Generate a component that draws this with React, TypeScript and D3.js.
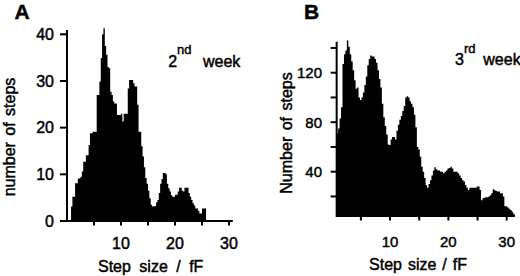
import React from "react";
import * as d3 from "d3";

// ---------- data ----------
const binWidth = 0.25;

// Panel A: 2nd week, bins start at 0.75 fF
const aBinStart = 0.75;
const aCounts = [
  3.1, 5.2, 5.2, 8.1, 8.1, 9.1, 9.1, 9.5, 10.6, 12.7, 12.7, 14.1, 14.1, 16.3, 18.8, 18.8,
  19.1, 19.1, 19.1, 27.0, 27.0, 29.9, 34.9, 40.0, 41.3, 37.5, 35.6, 33.0, 32.7, 27.7, 27.0, 25.6,
  25.2, 25.2, 22.7, 22.7, 22.7, 23.0, 21.3, 23.0, 23.0, 23.0, 28.4, 30.2, 30.2, 30.2, 29.5, 28.8,
  28.8, 24.9, 19.1, 19.1, 16.0, 13.8, 11.5, 9.2, 8.0, 6.5, 4.9, 3.5, 3.1, 3.1, 3.2, 4.0,
  4.5, 6.0, 8.0, 9.0, 10.3, 10.3, 10.0, 8.0, 7.0, 6.3, 5.5, 5.2, 5.2, 5.6, 5.6, 6.3,
  7.1, 7.1, 6.5, 6.3, 7.1, 7.1, 7.1, 6.0, 5.2, 4.5, 3.8, 3.3, 2.7, 2.7, 2.2, 1.6,
  1.6, 2.7, 2.7, 2.7,
];

// Panel B: 3rd week, bins start at 0.85 fF
const bBinStart = 0.85;
const bCounts = [
  71, 75, 83, 92, 127, 135, 138, 146, 141, 135, 129, 122, 114, 107, 108, 100,
  98, 100, 104, 110, 117, 126, 131, 134, 133, 133, 131, 128, 122, 115, 108, 95,
  84, 77, 70, 62, 61.5, 66, 68, 68, 66, 73, 78, 82, 85, 89, 93, 100,
  101, 100, 97, 95, 92, 86, 76, 60, 58, 52, 44, 40, 35, 29, 27, 30,
  33, 37, 41, 43.5, 42, 41, 41, 40, 40, 38.7, 40, 41, 42.5, 43, 44, 42.5,
  40, 40, 40, 38.7, 37, 35, 33, 32, 29, 27, 25.2, 27, 27, 27, 27, 27,
  28, 28, 25.2, 17, 18.5, 19, 19.3, 19.3, 20, 21, 22.5, 25.8, 25, 24.5, 24, 24,
  22.5, 22.5, 20, 12, 12, 11, 10, 9, 7.7, 6,
];

const aXTicks = [5, 10, 15, 20, 25, 30];
const aXLabels = [10, 20, 30];
const aYTicks = [0, 10, 20, 30, 40];
const aYLabels = [0, 10, 20, 30, 40];

const bXTicks = [5, 10, 15, 20, 25, 30];
const bXLabels = [10, 20, 30];
const bYTicks = [20, 40, 60, 80, 100, 120, 140];
const bYLabels = [40, 80, 120];

const FONT = "'Liberation Sans', Arial, Helvetica, sans-serif";

type Pt = [number, number];

function histPoints(start: number, counts: number[]): Pt[] {
  const pts: Pt[] = counts.map((c, i) => [start + i * binWidth, c] as Pt);
  pts.push([start + counts.length * binWidth, counts[counts.length - 1]]);
  return pts;
}

export default function App() {
  // ---- Panel A scales ----
  const xA = d3.scaleLinear().domain([0, 30]).range([67, 229]);
  const yA = d3.scaleLinear().domain([0, 40]).range([221, 34.3]);
  const aXMin = 0, aXMax = 30.7, aYMax = 40.9;

  // ---- Panel B scales ----
  const xB = d3.scaleLinear().domain([0, 30]).range([331.7, 506.7]);
  const yB = d3.scaleLinear().domain([40, 120]).range([171.7, 72.7]);
  const bXMin = 0.85, bXMax = 31.4, bYMin = 4.2, bYMax = 145;

  const areaA = d3
    .area<Pt>()
    .x((d) => xA(d[0]))
    .y0(yA(0))
    .y1((d) => yA(d[1]))
    .curve(d3.curveStepAfter);

  const areaB = d3
    .area<Pt>()
    .x((d) => xB(d[0]))
    .y0(yB(bYMin))
    .y1((d) => yB(d[1]))
    .curve(d3.curveStepAfter);

  const sw = 2;
  const ts = { stroke: "#000", strokeWidth: 0.45 } as const;

  return (
    <svg
      width={520}
      height={276}
      style={{ position: "absolute", left: 0, top: 0, background: "#fff" }}
      fontFamily={FONT}
    >
      <rect x={0} y={0} width={520} height={276} fill="#fff" />
      {/* ===== Panel A ===== */}
      <text x={14.5} y={18.5} fontSize={21} fontWeight="bold" {...ts}>A</text>
      <path d={areaA(histPoints(aBinStart, aCounts)) || ""} fill="#000" />
      {/* axes */}
      <line x1={xA(aXMin)} x2={xA(aXMax)} y1={yA(0)} y2={yA(0)} stroke="#000" strokeWidth={sw} />
      <line x1={xA(aXMin)} x2={xA(aXMin)} y1={yA(0) + 1} y2={yA(aYMax)} stroke="#000" strokeWidth={sw} />
      {aXTicks.map((t) => (
        <line key={"axt" + t} x1={xA(t)} x2={xA(t)} y1={yA(0)} y2={yA(0) + 4.5} stroke="#000" strokeWidth={sw} />
      ))}
      {aXLabels.map((t) => (
        <text key={"axl" + t} x={xA(t)} y={248.5} fontSize={16} textAnchor="middle" {...ts}>{t}</text>
      ))}
      {aYTicks.map((t) => (
        <line key={"ayt" + t} x1={xA(aXMin) - 7} x2={xA(aXMin)} y1={yA(t)} y2={yA(t)} stroke="#000" strokeWidth={sw} />
      ))}
      {aYLabels.map((t) => (
        <text key={"ayl" + t} x={54} y={yA(t) + 5.8} fontSize={16} textAnchor="end" {...ts}>{t}</text>
      ))}
      <text x={150.7} y={271.5} fontSize={16} textAnchor="middle" wordSpacing={4} {...ts}>Step size / fF</text>
      <text transform="translate(15,137) rotate(-90)" fontSize={16} textAnchor="middle" wordSpacing={2} {...ts}>number of steps</text>
      <text x={168.3} y={66.7} fontSize={16} {...ts}>2</text>
      <text x={177} y={53.5} fontSize={13} {...ts}>nd</text>
      <text x={203} y={66.7} fontSize={16} {...ts}>week</text>

      {/* ===== Panel B ===== */}
      <text x={304} y={18.5} fontSize={21} fontWeight="bold" {...ts}>B</text>
      <path d={areaB(histPoints(bBinStart, bCounts)) || ""} fill="#000" />
      <line x1={xB(bXMin)} x2={xB(bXMax)} y1={yB(bYMin)} y2={yB(bYMin)} stroke="#000" strokeWidth={sw} />
      <line x1={xB(bXMin)} x2={xB(bXMin)} y1={yB(bYMin) + 1} y2={yB(bYMax)} stroke="#000" strokeWidth={sw} />
      {bXTicks.map((t) => (
        <line key={"bxt" + t} x1={xB(t)} x2={xB(t)} y1={yB(bYMin)} y2={yB(bYMin) + 4.5} stroke="#000" strokeWidth={sw} />
      ))}
      {bXLabels.map((t) => (
        <text key={"bxl" + t} x={xB(t)} y={246.7} fontSize={15} textAnchor="middle" {...ts}>{t}</text>
      ))}
      {bYTicks.map((t) => (
        <line key={"byt" + t} x1={xB(bXMin) - 6} x2={xB(bXMin)} y1={yB(t)} y2={yB(t)} stroke="#000" strokeWidth={sw} />
      ))}
      {bYLabels.map((t) => (
        <text key={"byl" + t} x={322} y={yB(t) + 5.4} fontSize={15} textAnchor="end" {...ts}>{t}</text>
      ))}
      <text x={418} y={270} fontSize={16} textAnchor="middle" wordSpacing={1.5} {...ts}>Step size / fF</text>
      <text transform="translate(292,133) rotate(-90)" fontSize={16} textAnchor="middle" wordSpacing={2} {...ts}>Number of steps</text>
      <text x={455} y={65} fontSize={16} {...ts}>3</text>
      <text x={464} y={53} fontSize={13} {...ts}>rd</text>
      <text x={483.3} y={65} fontSize={16} {...ts}>week</text>
    </svg>
  );
}
